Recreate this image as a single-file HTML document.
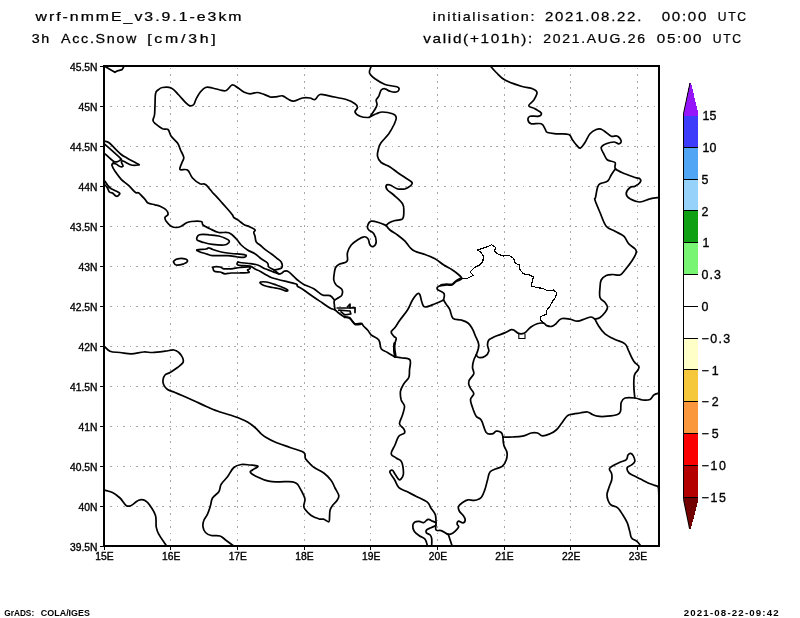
<!DOCTYPE html>
<html><head><meta charset="utf-8"><title>wrf-nmmE 3h Acc.Snow</title>
<style>
html,body{margin:0;padding:0;background:#fff;}
body{width:800px;height:618px;overflow:hidden;}
svg{display:block;will-change:transform;}
text{font-family:"Liberation Sans",sans-serif;fill:#000;}
body{-webkit-font-smoothing:antialiased;}
</style></head><body>
<svg width="800" height="618" viewBox="0 0 800 618">
<rect width="800" height="618" fill="#fff"/>

<g stroke="#a8a8a8" stroke-width="1" stroke-dasharray="1.8 4.75" fill="none" shape-rendering="crispEdges">
<line x1="170.5" y1="67.6" x2="170.5" y2="546.0"/>
<line x1="237.5" y1="67.6" x2="237.5" y2="546.0"/>
<line x1="304.5" y1="67.6" x2="304.5" y2="546.0"/>
<line x1="370.5" y1="67.6" x2="370.5" y2="546.0"/>
<line x1="437.5" y1="67.6" x2="437.5" y2="546.0"/>
<line x1="504.5" y1="67.6" x2="504.5" y2="546.0"/>
<line x1="570.5" y1="67.6" x2="570.5" y2="546.0"/>
<line x1="637.5" y1="67.6" x2="637.5" y2="546.0"/>
<line x1="110.0" y1="106.5" x2="659.0" y2="106.5"/>
<line x1="110.0" y1="146.5" x2="659.0" y2="146.5"/>
<line x1="110.0" y1="186.5" x2="659.0" y2="186.5"/>
<line x1="110.0" y1="226.5" x2="659.0" y2="226.5"/>
<line x1="110.0" y1="266.5" x2="659.0" y2="266.5"/>
<line x1="110.0" y1="306.5" x2="659.0" y2="306.5"/>
<line x1="110.0" y1="346.5" x2="659.0" y2="346.5"/>
<line x1="110.0" y1="386.5" x2="659.0" y2="386.5"/>
<line x1="110.0" y1="426.5" x2="659.0" y2="426.5"/>
<line x1="110.0" y1="466.5" x2="659.0" y2="466.5"/>
<line x1="110.0" y1="506.5" x2="659.0" y2="506.5"/>
</g>
<g fill="none" stroke="#000" stroke-width="1.72" stroke-linejoin="round" stroke-linecap="round">
<path d="M105.0 66.6 L114.9 72.3 L117.5 70.8 L122.1 69.6 L123.6 67.0"/>
<path d="M371.2 116.2 C370.6 116.5 369.5 117.5 367.5 117.5 C365.5 117.5 362.2 117.2 360.0 116.2 C357.8 115.3 355.4 113.6 355.0 112.0 C354.6 110.4 357.5 109.0 357.5 107.5 C357.5 106.0 357.0 105.2 355.0 103.8 C353.0 102.3 350.8 100.8 346.2 99.5 C341.8 98.2 334.7 97.2 330.0 96.2 C325.3 95.3 322.7 93.9 320.0 94.5 C317.3 95.1 316.8 98.9 315.0 99.5 C313.2 100.1 312.2 98.3 310.0 98.0 C307.8 97.7 305.4 97.4 302.5 98.0 C299.6 98.6 296.4 101.1 293.8 101.2 C291.1 101.4 289.5 99.7 287.5 98.8 C285.5 97.8 284.5 96.1 282.5 95.8 C280.5 95.4 278.5 96.6 276.2 96.8 C274.0 96.9 272.5 97.3 270.0 96.8 C267.5 96.2 264.8 94.5 262.5 93.8 C260.2 93.0 259.2 92.5 257.0 92.5 C254.8 92.5 252.4 93.8 250.0 93.8 C247.6 93.7 246.0 93.1 243.8 92.0 C241.5 90.9 239.6 88.8 237.5 87.5 C235.4 86.2 234.0 84.5 232.0 85.0 C230.0 85.5 228.4 89.6 226.2 90.5 C224.1 91.4 222.5 90.5 220.0 90.0 C217.5 89.5 215.1 88.5 212.5 88.0 C209.9 87.5 207.8 86.7 205.5 87.5 C203.2 88.3 201.7 90.5 200.0 92.5 C198.3 94.5 197.4 96.6 196.2 98.8 C195.1 100.9 194.9 103.2 193.8 104.5 C192.6 105.8 191.3 106.0 190.0 105.8 C188.7 105.5 188.3 105.2 186.2 103.2 C184.2 101.3 181.4 97.7 178.8 95.0 C176.1 92.3 174.2 89.3 171.2 88.0 C168.3 86.7 164.9 87.1 162.5 87.5 C160.1 87.9 159.3 88.9 158.0 90.0 C156.7 91.1 156.0 91.0 155.5 93.8 C155.0 96.5 155.2 101.2 155.0 105.0 C154.8 108.8 154.9 112.2 154.5 115.0 C154.1 117.8 152.8 118.9 153.0 120.5 C153.2 122.1 153.8 122.3 155.5 123.8 C157.2 125.2 160.2 127.7 162.5 128.8 C164.8 129.8 166.4 128.2 168.0 129.5 C169.6 130.8 169.5 133.8 171.2 136.2 C173.0 138.7 175.8 140.5 177.5 143.0 C179.2 145.5 179.4 147.4 180.5 150.0 C181.6 152.6 183.5 155.2 183.8 157.5 C184.0 159.8 182.7 160.3 182.0 162.5 C181.3 164.7 179.0 168.2 180.0 169.5 C181.0 170.8 185.2 168.5 187.5 170.0 C189.8 171.5 190.2 175.5 192.5 178.0 C194.8 180.5 197.7 182.6 200.0 183.8 C202.3 184.9 203.2 182.9 205.5 184.5 C207.8 186.1 210.8 190.6 212.5 192.5 C214.2 194.4 213.7 193.6 215.0 195.0 C216.3 196.4 218.0 198.2 220.0 200.5 C222.0 202.8 224.0 204.9 226.2 207.5 C228.5 210.1 231.2 213.2 232.5 215.0 C233.8 216.8 232.6 216.5 233.8 217.5 C234.9 218.5 236.9 219.4 238.8 220.6 C240.6 221.8 241.7 223.2 243.8 224.4 C245.8 225.6 248.0 226.0 250.0 227.0 C252.0 228.0 254.3 228.8 255.0 229.8 C255.7 230.7 253.8 231.3 253.8 232.5 C253.8 233.7 254.6 234.6 255.0 236.2 C255.4 237.9 255.3 240.3 256.2 241.9 C257.1 243.5 258.4 243.7 260.0 245.0 C261.6 246.3 263.0 247.8 265.0 249.4 C267.0 251.0 269.0 252.1 271.2 253.8 C273.5 255.4 275.7 257.3 277.5 258.8 C279.3 260.2 280.5 260.4 281.2 262.0 C282.0 263.6 282.6 266.2 281.9 267.5 C281.2 268.8 279.0 269.0 277.5 269.4 C276.0 269.8 274.4 269.7 273.8 269.8"/>
<path d="M371.2 66.2 C370.9 67.5 368.8 70.8 369.5 73.0 C370.2 75.2 372.2 76.7 375.0 78.8 C377.8 80.8 380.9 83.0 385.0 84.5 C389.1 86.0 395.0 86.0 397.5 87.0 C400.0 88.0 399.0 89.1 398.8 90.0 C398.5 90.9 397.8 91.8 396.2 92.0 C394.7 92.2 392.0 91.8 390.0 91.2 C388.0 90.7 386.6 89.0 385.0 88.8 C383.4 88.5 382.4 88.7 381.2 90.0 C380.1 91.3 379.6 94.5 378.8 96.2 C377.9 98.0 376.6 98.4 376.2 100.0 C375.9 101.6 377.4 103.0 377.0 105.0 C376.6 107.0 374.9 109.2 373.8 111.2 C372.6 113.3 370.1 115.8 370.5 116.2 C370.9 116.7 374.1 114.5 376.2 113.8 C378.4 113.0 379.6 112.0 382.5 112.0 C385.4 112.0 390.0 112.8 392.5 113.8 C395.0 114.7 396.0 115.5 396.2 117.5 C396.5 119.5 395.1 122.1 393.8 125.0 C392.4 127.9 391.0 130.6 388.8 133.8 C386.5 136.9 383.1 140.0 381.2 142.5 C379.4 145.0 379.4 145.0 378.8 147.5 C378.1 150.0 377.1 153.6 377.5 156.2 C377.9 158.9 379.0 160.6 381.2 162.5 C383.5 164.4 387.1 165.2 390.0 167.0 C392.9 168.8 394.8 170.6 397.5 172.5 C400.2 174.4 402.4 175.7 405.0 177.5 C407.6 179.3 411.1 180.9 412.0 182.5 C412.9 184.1 411.3 185.1 410.0 186.2 C408.7 187.4 407.2 188.3 405.0 188.8 C402.8 189.2 400.2 189.4 397.5 188.8 C394.8 188.1 392.0 185.6 390.0 185.0 C388.0 184.4 386.7 184.6 386.2 185.5 C385.8 186.4 386.1 188.3 387.5 190.0 C388.9 191.7 391.1 192.5 393.8 195.0 C396.4 197.5 400.7 200.8 402.5 203.8 C404.3 206.7 403.8 208.6 403.8 211.2 C403.8 213.9 404.1 217.1 402.5 218.8 C400.9 220.4 397.5 219.7 395.0 220.5 C392.5 221.3 390.3 222.1 388.8 223.0 C387.2 223.9 386.7 225.1 386.2 225.5"/>
<path d="M386.2 225.5 C385.1 225.1 382.7 223.8 380.0 223.0 C377.3 222.2 373.5 220.7 371.2 221.2 C369.0 221.8 367.9 224.7 367.5 226.2 C367.1 227.8 367.6 228.7 368.8 230.0 C369.9 231.3 372.4 231.7 373.8 233.8 C375.1 235.8 376.2 239.0 376.2 241.2 C376.2 243.5 374.9 245.6 373.8 246.2 C372.6 246.9 371.0 246.3 370.0 245.0 C369.0 243.7 369.1 240.2 368.0 238.8 C366.9 237.3 365.6 236.5 363.8 236.8 C361.9 237.0 359.8 238.5 357.5 240.0 C355.2 241.5 353.1 242.8 351.2 245.0 C349.4 247.2 348.2 249.8 347.5 252.5 C346.8 255.2 347.9 258.2 347.5 260.0 C347.1 261.8 346.6 261.7 345.0 262.5 C343.4 263.3 340.4 263.5 338.8 264.4 C337.1 265.3 336.4 266.0 335.6 267.5 C334.8 269.0 334.7 270.2 334.4 272.5 C334.1 274.8 333.4 277.8 333.8 280.0 C334.1 282.2 334.8 283.3 336.2 285.0 C337.7 286.7 340.9 287.6 341.9 289.4 C342.9 291.2 342.5 293.5 341.9 295.0 C341.3 296.5 340.1 296.5 338.8 297.5 C337.4 298.5 335.2 299.2 334.4 300.6 C333.6 302.0 334.3 303.3 334.4 305.0 C334.5 306.7 334.9 309.1 335.0 310.0"/>
<path d="M386.2 225.5 C386.9 226.3 388.0 228.3 390.0 230.0 C392.0 231.7 394.8 233.0 397.5 235.0 C400.2 237.0 402.8 239.0 405.0 241.2 C407.2 243.5 408.2 245.7 410.0 247.5 C411.8 249.3 412.3 250.0 415.0 251.2 C417.7 252.5 421.4 253.2 425.0 254.5 C428.6 255.8 431.6 256.9 435.0 258.8 C438.4 260.6 440.6 263.0 443.8 265.0 C446.9 267.0 449.8 268.2 452.5 270.0 C455.2 271.8 457.3 273.4 459.0 275.0 C460.7 276.6 462.3 277.5 461.8 278.7 C461.3 279.9 458.0 280.4 456.2 281.5 C454.4 282.6 453.7 284.4 452.0 285.0 C450.3 285.6 448.9 284.8 446.5 285.0 C444.1 285.2 440.4 285.4 438.8 286.2 C437.1 287.1 436.6 288.2 437.5 289.5 C438.4 290.8 442.9 291.6 444.0 293.5 C445.1 295.4 443.6 298.8 443.5 300.0"/>
<path d="M443.5 300.0 C442.0 300.7 438.3 302.5 435.0 303.8 C431.7 305.0 427.3 307.2 425.0 307.0 C422.7 306.8 422.9 304.7 422.0 302.5 C421.1 300.3 420.8 296.6 420.0 295.0 C419.2 293.4 418.9 292.9 417.5 293.8 C416.1 294.6 414.3 297.1 412.5 300.0 C410.7 302.9 409.8 306.4 407.5 310.0 C405.2 313.6 402.2 316.9 400.0 320.0 C397.8 323.1 396.6 325.3 395.0 327.5 C393.4 329.7 391.5 330.4 391.2 332.0 C391.0 333.6 392.9 335.0 393.8 336.2 C394.6 337.5 396.2 336.7 396.2 338.8 C396.2 340.8 394.0 344.2 393.8 347.5 C393.5 350.8 394.8 355.3 395.0 357.0"/>
<path d="M443.5 300.0 C444.0 300.8 445.4 302.9 446.5 304.6 C447.6 306.3 448.5 306.9 449.7 309.4 C450.9 311.9 451.0 316.4 453.0 318.3 C455.0 320.2 458.2 319.1 461.0 320.0 C463.8 320.9 466.2 321.6 468.3 323.2 C470.4 324.8 471.2 326.8 472.4 328.9 C473.6 331.0 473.9 332.1 475.0 335.0 C476.1 337.9 478.5 341.4 478.8 345.0 C479.0 348.6 476.7 353.2 476.2 355.0"/>
<path d="M595.0 319.2 C594.3 318.8 593.0 317.1 591.2 317.0 C589.5 316.9 587.5 318.0 585.0 318.8 C582.5 319.5 580.2 321.2 577.5 321.2 C574.8 321.3 572.9 319.7 570.0 319.2 C567.1 318.8 563.8 317.9 561.2 318.8 C558.7 319.6 557.4 322.6 555.7 324.0 C554.0 325.4 553.3 326.1 551.7 326.4 C550.1 326.7 548.3 326.2 546.8 325.6 C545.3 325.0 545.3 323.5 543.6 323.2 C541.9 322.9 539.4 323.0 537.1 323.7 C534.8 324.4 532.6 325.7 530.6 327.2 C528.6 328.7 527.3 330.9 525.8 332.1 C524.3 333.3 523.8 333.5 522.5 333.7 C521.2 333.9 520.0 334.0 518.5 333.4 C517.0 332.8 515.7 331.2 514.4 330.5 C513.1 329.8 512.9 329.3 511.2 329.7 C509.5 330.1 507.2 331.9 504.7 332.9 C502.2 333.9 499.8 334.6 497.5 335.5 C495.2 336.4 493.6 337.1 492.0 338.0 C490.4 338.9 489.3 339.2 488.5 340.5 C487.7 341.8 487.5 343.1 487.5 345.0 C487.5 346.9 489.2 349.2 488.8 351.2 C488.3 353.3 486.8 355.1 485.0 356.2 C483.2 357.4 480.3 357.7 478.8 357.5 C477.2 357.3 476.7 355.4 476.2 355.0"/>
<path d="M476.2 355.0 C475.8 355.9 474.4 357.8 473.8 360.0 C473.1 362.2 472.5 365.0 472.5 367.5 C472.5 370.0 474.4 371.3 473.8 373.8 C473.1 376.2 469.4 378.8 468.8 381.2 C468.1 383.7 469.1 385.2 470.0 387.5 C470.9 389.8 473.7 391.6 473.8 393.8 C473.8 395.9 470.7 397.0 470.5 399.5 C470.3 402.0 471.5 404.5 472.5 407.5 C473.5 410.5 474.7 414.0 476.2 416.2 C477.8 418.5 479.4 417.1 481.2 420.0 C483.1 422.9 484.2 430.0 486.2 432.5 C488.3 435.0 490.7 434.0 492.5 433.8 C494.3 433.5 494.7 431.5 496.2 431.2 C497.8 431.0 500.0 431.5 501.2 432.5 C502.5 433.5 502.7 436.2 503.0 437.0"/>
<path d="M503.0 437.0 C504.7 437.0 509.0 437.1 512.5 437.0 C516.0 436.9 519.1 437.0 522.5 436.2 C525.9 435.5 528.5 433.6 531.2 433.0 C534.0 432.4 535.5 432.5 537.5 433.0 C539.5 433.5 540.2 435.6 542.5 435.8 C544.8 435.9 547.5 434.8 550.0 433.8 C552.5 432.7 554.2 431.8 556.2 430.0 C558.3 428.2 559.5 426.1 561.2 423.8 C563.0 421.4 564.7 418.7 566.2 417.0 C567.8 415.3 567.5 415.2 570.0 414.5 C572.5 413.8 576.9 413.4 580.0 413.0 C583.1 412.6 585.2 411.7 587.5 412.0 C589.8 412.3 590.7 413.7 592.5 414.5 C594.3 415.3 594.8 415.9 597.5 416.2 C600.2 416.6 603.9 416.6 607.5 416.2 C611.1 415.9 615.2 415.4 617.5 414.5 C619.8 413.6 619.8 413.4 620.5 411.2 C621.2 409.1 620.4 404.9 621.2 402.5 C622.1 400.1 622.5 398.8 625.0 398.0 C627.5 397.2 631.9 397.6 635.0 398.0 C638.1 398.4 639.8 399.7 642.5 400.0 C645.2 400.3 648.0 400.4 650.0 399.5 C652.0 398.6 652.1 396.2 653.8 395.0 C655.4 393.8 658.3 393.4 659.2 393.0"/>
<path d="M595.0 319.2 C595.7 320.5 597.0 323.6 598.8 326.2 C600.5 328.9 602.1 331.4 605.0 333.8 C607.9 336.1 611.4 337.7 615.0 339.5 C618.6 341.3 622.5 341.6 625.0 343.8 C627.5 345.9 627.2 348.1 628.8 351.2 C630.3 354.4 632.0 358.6 633.8 361.2 C635.5 363.9 638.0 364.7 638.8 366.2 C639.5 367.8 638.8 368.4 638.0 370.0 C637.2 371.6 635.3 372.3 634.5 375.0 C633.7 377.7 633.8 381.4 633.8 385.0 C633.8 388.6 634.3 392.7 634.5 395.0 C634.7 397.3 634.9 397.5 635.0 398.0"/>
<path d="M503.0 437.0 C503.1 438.4 503.0 442.2 503.8 445.0 C504.5 447.8 506.6 449.8 507.0 452.5 C507.4 455.2 507.1 457.5 506.2 460.0 C505.4 462.5 504.3 464.7 502.5 466.2 C500.7 467.8 498.5 467.7 496.2 468.8 C494.0 469.8 491.6 470.0 490.0 472.0 C488.4 474.0 488.4 476.9 487.5 480.0 C486.6 483.1 486.1 486.1 485.0 489.2 C483.9 492.4 482.8 495.6 481.2 497.5 C479.7 499.4 477.7 499.5 476.2 500.0 C474.8 500.5 474.7 500.3 473.2 500.3 C471.7 500.3 469.8 499.5 468.0 499.8 C466.2 500.1 464.7 501.0 463.0 502.2 C461.3 503.4 459.3 504.7 458.6 506.3 C457.9 507.9 458.5 509.4 459.3 511.0 C460.1 512.6 461.9 513.7 463.0 515.3 C464.1 516.9 465.2 518.3 465.2 519.7 C465.2 521.1 464.2 522.6 463.0 522.9 C461.8 523.2 459.7 520.9 458.6 521.1 C457.5 521.3 457.1 522.9 457.1 524.0 C457.1 525.1 459.0 525.7 458.6 527.0 C458.2 528.3 456.4 530.0 455.0 531.3 C453.6 532.6 452.2 533.8 450.6 534.2 C449.0 534.6 447.0 533.6 446.2 533.5"/>
<path d="M490.5 66.2 C491.5 67.4 493.6 70.0 496.2 72.5 C498.9 75.0 500.5 77.5 505.0 80.0 C509.5 82.5 516.3 84.7 521.2 86.2 C526.2 87.8 529.7 87.6 532.5 88.8 C535.3 89.9 536.8 90.5 537.0 92.5 C537.2 94.5 535.2 97.6 533.8 100.0 C532.3 102.4 528.5 104.2 528.8 105.8 C529.0 107.3 532.8 107.4 535.0 108.8 C537.2 110.1 540.6 111.7 541.2 113.0 C541.9 114.3 540.8 115.7 538.8 116.2 C536.7 116.8 531.9 115.6 530.0 116.2 C528.1 116.9 527.8 118.7 528.0 120.0 C528.2 121.3 528.9 123.1 531.2 123.8 C533.6 124.4 538.8 122.8 541.2 123.8 C543.7 124.7 543.9 127.2 545.0 128.8 C546.1 130.3 545.2 131.6 547.5 132.5 C549.8 133.4 553.7 133.4 557.5 133.8 C561.3 134.1 566.0 133.4 568.8 134.5 C571.5 135.6 570.9 137.9 572.5 140.0 C574.1 142.1 576.1 144.8 577.5 146.2 C578.9 147.7 579.1 148.7 580.5 148.0 C581.9 147.3 583.3 145.1 585.0 142.5 C586.7 139.9 588.0 136.1 590.0 133.8 C592.0 131.4 594.2 130.3 596.2 129.5 C598.3 128.7 599.5 128.7 601.2 129.2 C603.0 129.8 604.5 131.2 606.2 132.5 C608.0 133.8 609.2 135.6 611.2 136.2 C613.3 136.9 615.7 135.3 617.5 136.2 C619.3 137.2 621.0 139.9 621.2 141.2 C621.5 142.6 620.1 143.6 618.8 143.8 C617.4 143.9 616.0 142.0 613.8 142.0 C611.5 142.0 608.5 142.8 606.2 143.8 C604.0 144.7 601.7 145.7 601.2 147.5 C600.8 149.3 602.6 151.5 603.8 153.8 C604.9 156.0 605.5 158.4 607.5 160.0 C609.5 161.6 613.6 160.9 615.0 162.5 C616.4 164.1 613.7 166.7 615.5 168.8 C617.3 170.8 621.5 172.2 625.0 173.8 C628.5 175.3 632.3 176.6 635.0 177.5 C637.7 178.4 639.1 177.8 640.0 178.8 C640.9 179.7 640.9 181.2 640.0 182.5 C639.1 183.8 636.8 185.3 635.0 186.2 C633.2 187.2 631.6 186.2 630.0 187.5 C628.4 188.8 626.2 191.7 626.2 193.8 C626.2 195.8 627.5 197.3 630.0 198.8 C632.5 200.2 636.4 202.0 640.0 202.0 C643.6 202.0 646.6 199.6 650.0 198.8 C653.4 197.9 657.4 197.7 659.0 197.5"/>
<path d="M615.5 168.8 C614.7 169.9 612.7 172.8 611.2 175.0 C609.8 177.2 609.5 179.7 607.5 181.2 C605.5 182.8 601.8 182.6 600.0 183.8 C598.2 184.9 598.3 185.0 597.5 187.5 C596.7 190.0 596.0 195.2 595.5 197.5 C595.0 199.8 594.2 197.3 595.0 200.0 C595.8 202.7 598.0 207.8 600.0 212.5 C602.0 217.2 603.5 222.9 606.2 226.2 C609.0 229.6 611.9 229.4 615.0 231.2 C618.1 233.1 621.3 234.0 623.8 236.2 C626.2 238.5 626.7 241.5 628.8 243.8 C630.8 246.0 633.6 247.2 635.0 248.8 C636.4 250.3 636.7 250.5 636.2 252.5 C635.8 254.5 634.5 256.9 632.5 260.0 C630.5 263.1 627.2 267.3 625.0 270.0 C622.8 272.7 622.2 274.2 620.0 275.0 C617.8 275.8 615.0 274.4 612.5 274.5 C610.0 274.6 608.3 274.5 606.2 275.5 C604.2 276.5 602.4 277.8 601.2 280.0 C600.1 282.2 600.2 284.4 600.0 287.5 C599.8 290.6 599.1 294.8 600.0 297.5 C600.9 300.2 603.6 300.7 605.0 302.5 C606.4 304.3 607.5 305.7 607.5 307.5 C607.5 309.3 606.4 310.7 605.0 312.5 C603.6 314.3 601.8 316.3 600.0 317.5 C598.2 318.7 595.9 318.9 595.0 319.2"/>
<path d="M105.0 141.2 C105.8 141.6 106.6 140.7 109.4 143.0 C112.2 145.3 117.4 151.3 120.6 154.0 C123.8 156.7 123.8 156.2 126.9 158.0 C130.0 159.8 136.0 162.7 138.0 164.0 C140.0 165.3 139.2 164.8 138.0 165.0 C136.8 165.2 133.9 165.7 131.2 165.0 C128.6 164.3 124.8 161.5 123.0 161.0 C121.2 160.5 121.5 161.3 121.5 162.2 C121.5 163.2 123.4 165.5 123.0 166.2 C122.6 167.0 120.6 166.7 119.4 166.2 C118.2 165.8 117.4 164.5 116.2 164.0 C115.1 163.5 113.8 163.2 113.0 163.5 C112.2 163.8 111.6 164.2 112.0 165.6 C112.4 167.0 113.3 168.8 115.0 171.2 C116.7 173.7 118.8 176.8 121.2 179.4 C123.7 182.0 126.2 183.2 128.8 185.6 C131.3 188.0 133.8 191.2 135.6 192.5 C137.4 193.8 137.1 191.8 138.8 193.0 C140.4 194.2 143.3 197.6 145.0 199.4 C146.7 201.2 146.2 202.0 148.0 203.0 C149.8 204.0 152.8 204.2 155.0 204.8 C157.2 205.3 158.0 205.3 160.0 206.2 C162.0 207.2 164.8 208.5 166.2 210.0 C167.7 211.5 168.2 213.2 168.0 214.5 C167.8 215.8 165.3 216.3 165.0 217.5 C164.7 218.7 165.1 219.7 166.2 221.2 C167.4 222.8 169.4 225.1 171.2 226.2 C173.1 227.4 174.4 227.5 176.2 227.5 C178.1 227.5 179.4 227.1 181.2 226.2 C183.1 225.4 184.4 223.9 186.2 223.0 C188.1 222.1 188.6 221.8 191.2 221.5 C193.9 221.2 199.1 220.9 201.2 221.5 C203.4 222.1 201.4 223.7 203.0 225.0 C204.6 226.3 207.2 227.4 210.0 228.8 C212.8 230.1 215.4 231.8 218.8 232.5 C222.1 233.2 225.6 231.6 228.8 232.8 C231.9 233.9 234.0 236.5 236.2 238.8 C238.5 241.0 239.2 243.0 241.2 245.0 C243.3 247.0 245.0 248.4 247.5 250.0 C250.0 251.6 252.5 252.2 255.0 253.8 C257.5 255.3 259.0 257.1 261.2 258.8 C263.5 260.4 266.1 261.5 267.5 263.0 C268.9 264.5 267.6 265.8 268.8 267.0 C269.9 268.2 271.9 268.5 273.8 269.8 C275.6 271.0 277.3 273.2 278.8 273.8 C280.2 274.3 280.9 273.4 281.9 273.0 C282.9 272.6 283.2 271.4 284.4 271.2 C285.6 271.1 286.4 270.3 288.8 271.9 C291.1 273.5 294.8 277.8 297.5 280.0 C300.2 282.2 300.8 282.8 303.8 284.4 C306.7 286.0 310.4 286.8 313.8 288.8 C317.1 290.7 319.6 293.8 322.5 295.0 C325.4 296.2 327.9 294.7 330.0 295.6 C332.1 296.5 333.6 299.2 334.4 300.0"/>
<path d="M105.0 144.4 C107.7 146.8 117.2 155.1 120.0 157.8 C122.8 160.4 120.8 158.8 120.6 159.4 C120.4 160.0 120.0 160.6 118.8 161.0 C117.5 161.4 116.2 162.8 113.8 161.5 C111.3 160.2 106.6 155.1 105.0 153.8"/>
<path d="M113.8 161.5 L113.0 163.5"/>
<path d="M105.0 181.2 C105.5 181.9 106.4 183.7 107.5 185.0 C108.6 186.3 109.2 187.4 111.2 188.8 C113.3 190.1 117.3 191.5 118.8 192.5 C120.2 193.5 119.9 193.7 119.4 194.4 C119.0 195.1 117.5 196.5 116.2 196.2 C115.0 196.0 113.7 193.8 112.5 193.0 C111.3 192.2 110.3 192.9 109.4 192.0 C108.5 191.1 108.3 189.3 107.5 188.0 C106.7 186.7 105.5 185.5 105.0 185.0"/>
<path d="M199.4 234.8 C201.6 233.8 205.9 234.5 209.4 234.8 C212.9 235.0 215.7 235.3 218.8 236.0 C221.8 236.7 224.3 237.8 226.2 238.8 C228.2 239.7 229.2 240.3 229.4 241.2 C229.6 242.2 228.5 243.1 227.5 243.8 C226.5 244.4 226.4 244.9 223.8 245.0 C221.1 245.1 216.1 244.8 212.5 244.4 C208.9 244.0 206.5 243.3 203.8 242.5 C201.0 241.7 197.8 241.1 197.0 239.8 C196.2 238.4 197.2 235.7 199.4 234.8"/>
<path d="M197.0 249.8 C198.1 249.2 204.1 249.4 206.2 249.0 C208.4 248.6 207.6 247.7 208.8 247.8 C209.9 247.8 210.2 248.6 212.5 249.4 C214.8 250.2 217.9 251.3 221.2 252.0 C224.6 252.7 227.0 253.0 231.2 253.5 C235.5 254.0 242.6 254.1 245.0 254.8 C247.4 255.4 245.8 256.8 244.4 257.2 C243.1 257.7 240.5 257.3 237.5 257.0 C234.5 256.7 232.0 255.9 227.5 255.6 C223.0 255.3 216.3 255.9 212.5 255.6 C208.7 255.3 208.5 254.4 206.2 253.8 C204.0 253.1 201.7 252.7 200.0 252.0 C198.3 251.3 195.9 250.3 197.0 249.8"/>
<path d="M213.0 267.0 C214.3 266.8 218.1 266.7 220.0 267.0 C221.9 267.3 221.7 268.4 223.8 268.8 C225.8 269.1 228.3 269.0 231.2 268.8 C234.2 268.5 236.8 267.8 240.0 267.5 C243.2 267.2 246.9 266.8 248.8 267.0 C250.6 267.2 250.2 268.2 250.0 268.8 C249.8 269.3 247.7 269.3 247.5 270.0 C247.3 270.7 250.1 272.0 248.8 272.5 C247.4 273.0 243.2 272.7 240.0 272.8 C236.8 272.8 233.9 272.8 231.2 273.0 C228.6 273.2 227.0 273.9 225.0 273.8 C223.0 273.6 221.9 272.4 220.0 272.0 C218.1 271.6 215.7 272.0 214.4 271.2 C213.1 270.5 213.3 268.8 213.0 268.0 C212.7 267.2 211.7 267.2 213.0 267.0"/>
<path d="M173.8 261.2 C174.4 260.6 175.5 259.2 177.5 258.8 C179.5 258.3 183.2 258.3 185.0 258.8 C186.8 259.2 187.7 260.4 187.5 261.2 C187.3 262.1 185.8 263.1 183.8 263.8 C181.7 264.4 178.1 265.2 176.2 265.0 C174.4 264.8 174.2 263.2 173.8 262.5 C173.3 261.8 173.1 261.9 173.8 261.2"/>
<path d="M238.0 262.0 C238.4 262.1 238.1 262.2 240.0 262.5 C241.9 262.8 245.6 263.1 248.8 263.5 C251.9 263.9 254.6 264.1 257.5 265.0 C260.4 265.9 262.5 267.7 265.0 268.8 C267.5 269.8 269.4 270.3 271.2 271.0 C273.1 271.7 273.6 272.0 275.0 272.5 C276.4 273.0 278.1 273.7 278.8 274.0"/>
<path d="M238.0 262.0 C238.0 262.5 235.8 264.2 238.0 265.0 C240.2 265.8 246.9 265.5 250.0 266.2 C253.1 267.0 253.2 268.1 255.0 269.0 C256.8 269.9 257.8 270.1 260.0 271.2 C262.2 272.4 265.2 274.4 267.5 275.6 C269.8 276.8 269.4 277.0 272.5 278.0 C275.6 279.0 280.7 280.2 285.0 281.2 C289.3 282.3 294.0 283.1 296.2 284.0 C298.5 284.9 296.1 285.2 297.5 286.2 C298.9 287.3 301.1 288.2 303.8 290.0 C306.4 291.8 309.1 293.9 312.5 296.2 C315.9 298.6 319.4 300.9 322.5 303.0 C325.6 305.1 327.8 306.7 330.0 308.0 C332.2 309.3 333.6 309.2 335.0 310.0 C336.4 310.8 336.4 311.3 338.0 312.5 C339.6 313.7 342.0 315.7 344.0 316.6 C346.0 317.5 347.8 316.7 349.2 317.4 C350.7 318.1 351.2 319.6 352.2 320.8 C353.3 321.9 353.6 323.3 355.2 323.8 C356.9 324.2 359.8 323.0 361.2 323.4 C362.7 323.8 362.3 324.7 363.5 326.0 C364.7 327.3 366.6 328.9 368.0 330.5 C369.4 332.1 369.3 333.3 371.2 335.0 C373.2 336.7 376.9 337.5 378.8 340.0 C380.6 342.5 379.7 346.5 381.2 348.8 C382.8 351.0 385.0 351.0 387.5 352.5 C390.0 354.0 393.6 356.2 395.0 357.0"/>
<path d="M260.0 282.5 C260.4 281.9 263.3 281.6 266.2 282.0 C269.2 282.4 272.5 283.7 276.2 285.0 C280.0 286.3 285.1 288.3 286.9 289.4 C288.7 290.5 287.5 291.4 286.2 291.2 C285.0 291.1 282.5 289.4 280.0 288.8 C277.5 288.1 275.4 288.1 272.5 287.5 C269.6 286.9 266.2 286.4 264.0 285.5 C261.8 284.6 259.6 283.1 260.0 282.5"/>
<path d="M337.2 308.0 L350.0 308.0 L350.0 304.2 L347.8 306.5"/>
<path d="M350.0 308.0 L355.0 307.6 L355.0 312.5"/>
<path d="M338.8 310.2 L350.0 311.0 L350.8 314.0 L344.8 314.8 L341.0 311.8"/>
<path d="M395.0 357.0 C396.4 357.2 399.8 357.5 402.5 358.0 C405.2 358.5 408.7 357.8 410.0 360.0 C411.3 362.2 409.7 366.9 409.5 370.0 C409.3 373.1 409.8 375.0 408.8 377.5 C407.7 380.0 405.2 381.3 403.8 383.8 C402.3 386.2 400.9 388.3 400.5 391.2 C400.1 394.2 400.5 397.3 401.2 400.0 C402.0 402.7 404.3 403.6 404.5 406.2 C404.7 408.9 403.4 411.9 402.5 415.0 C401.6 418.1 399.3 421.3 399.5 423.8 C399.7 426.2 402.9 427.1 403.8 428.8 C404.6 430.4 405.4 431.6 404.5 433.0 C403.6 434.4 400.5 434.1 398.8 436.2 C397.0 438.4 396.4 441.9 395.0 445.0 C393.6 448.1 391.0 451.4 391.2 453.8 C391.5 456.1 394.4 456.6 396.2 458.0 C398.1 459.4 400.0 459.6 401.2 461.2 C402.5 462.9 402.6 464.9 403.0 467.3 C403.4 469.7 403.6 472.5 403.3 474.6 C403.0 476.7 401.9 478.0 401.1 478.9 C400.3 479.8 399.9 480.5 398.9 479.7 C397.9 478.9 396.5 476.3 395.3 474.6 C394.1 472.9 393.4 470.6 392.4 470.2 C391.4 469.8 389.5 470.7 389.9 472.4 C390.3 474.1 393.0 476.9 394.6 479.7 C396.2 482.5 396.8 485.6 398.9 487.7 C401.0 489.8 403.1 489.7 406.2 491.3 C409.3 492.9 412.6 494.4 416.4 496.4 C420.2 498.4 424.7 500.1 427.3 502.2 C429.9 504.3 429.5 505.8 430.9 508.0 C432.3 510.2 434.4 512.0 435.3 514.6 C436.2 517.2 435.9 519.8 436.0 522.6 C436.1 525.4 435.1 528.5 436.0 529.9 C436.9 531.3 439.3 530.0 441.1 530.6 C442.9 531.2 444.9 532.7 446.2 533.5 C447.5 534.3 447.7 534.0 448.4 535.0 C449.1 536.0 449.3 537.4 449.9 539.3 C450.5 541.2 451.6 544.4 452.0 545.5"/>
<path d="M436.0 522.6 C435.4 522.3 433.8 521.7 432.4 521.1 C431.0 520.5 429.6 519.1 428.0 519.4 C426.4 519.7 425.3 522.2 423.7 522.6 C422.1 523.0 420.9 521.5 419.3 521.4 C417.7 521.3 416.1 521.2 414.9 521.9 C413.7 522.6 412.9 523.8 412.8 525.5 C412.7 527.2 413.0 529.5 414.2 531.3 C415.4 533.1 417.3 534.3 419.3 535.7 C421.3 537.1 423.7 537.5 425.1 539.3 C426.5 541.1 426.9 544.4 427.3 545.5"/>
<path d="M436.0 525.5 C435.1 525.9 432.6 526.9 430.9 527.7 C429.2 528.5 427.4 529.0 426.6 529.9 C425.8 530.8 425.7 531.9 426.3 532.8 C426.9 533.7 429.2 534.0 430.2 535.0 C431.2 536.0 431.4 536.7 431.7 538.6 C432.0 540.5 431.7 544.3 431.7 545.5"/>
<path d="M394.2 343.0 C394.1 343.9 393.8 345.7 393.9 348.0 C394.0 350.3 394.8 354.6 395.0 356.0"/>
<path d="M395.0 343.0 C394.9 343.9 394.6 345.7 394.7 348.0 C394.8 350.3 395.6 354.6 395.8 356.0"/>
<path d="M460.5 278.2 C459.7 278.6 457.7 279.5 456.2 280.6 C454.7 281.7 453.7 283.6 452.0 284.2 C450.3 284.8 448.5 284.1 446.5 284.2 C444.5 284.3 442.0 284.7 441.0 284.8"/>
<path d="M344.5 317.3 C345.4 317.5 348.1 317.4 349.5 318.2 C350.9 319.0 351.4 320.4 352.5 321.6 C353.6 322.8 354.0 324.1 355.5 324.6 C357.0 325.1 360.0 324.3 361.0 324.2"/>
<path d="M104.2 346.2 C105.3 347.1 107.2 350.1 110.0 351.2 C112.8 352.4 116.2 352.1 120.0 352.5 C123.8 352.9 127.0 353.8 131.2 353.8 C135.5 353.7 139.9 352.2 143.8 352.0 C147.6 351.8 148.7 352.6 152.5 352.5 C156.3 352.4 161.2 351.7 165.0 351.2 C168.8 350.8 171.3 349.8 173.8 350.0 C176.2 350.2 177.2 351.1 178.8 352.5 C180.3 353.9 181.7 355.7 182.5 357.5 C183.3 359.3 183.9 360.7 183.0 362.5 C182.1 364.3 179.8 365.7 177.5 367.5 C175.2 369.3 172.2 371.1 170.0 372.5 C167.8 373.9 166.3 373.6 165.0 375.0 C163.7 376.4 163.2 378.2 163.0 380.0 C162.8 381.8 162.9 383.3 163.8 385.0 C164.6 386.7 165.5 388.1 167.5 389.5 C169.5 390.9 172.1 391.3 175.0 392.5 C177.9 393.7 180.2 394.7 183.8 396.2 C187.3 397.8 190.7 399.3 195.0 401.2 C199.3 403.2 203.0 405.1 207.5 407.0 C212.0 408.9 215.9 410.6 220.0 412.0 C224.1 413.4 226.6 413.9 230.0 415.0 C233.4 416.1 235.6 416.7 238.8 418.0 C241.9 419.3 244.6 420.3 247.5 422.0 C250.4 423.7 252.5 425.4 255.0 427.5 C257.5 429.6 259.2 431.9 261.2 433.8 C263.3 435.6 263.8 436.0 266.2 437.5 C268.7 439.0 270.7 440.2 275.0 442.0 C279.3 443.8 284.8 445.6 290.0 447.5 C295.2 449.4 301.0 450.5 303.8 452.5 C306.5 454.5 304.1 456.5 305.5 458.8 C306.9 461.0 309.5 463.3 311.2 465.0 C313.0 466.7 312.8 466.6 315.0 468.0 C317.2 469.4 320.8 470.8 323.8 473.0 C326.7 475.2 329.2 477.8 331.2 480.5 C333.3 483.2 333.6 485.3 335.0 488.0 C336.4 490.7 338.4 493.2 338.8 495.5 C339.1 497.8 338.1 498.7 337.0 500.5 C335.9 502.3 333.8 503.7 332.5 505.5 C331.2 507.3 330.5 508.2 330.0 510.5 C329.5 512.8 329.7 516.0 329.5 518.0 C329.3 520.0 329.8 521.5 328.8 521.8 C327.7 522.0 325.6 519.8 323.8 519.2 C321.9 518.7 321.0 519.4 318.8 518.8 C316.5 518.1 313.7 517.2 311.2 515.5 C308.8 513.8 306.4 511.1 305.0 509.2 C303.6 507.4 303.8 507.3 303.8 505.5 C303.8 503.7 305.2 501.5 305.0 499.2 C304.8 497.0 303.9 495.7 302.5 493.0 C301.1 490.3 299.3 486.3 297.5 484.2 C295.7 482.2 295.6 482.2 292.5 481.8 C289.4 481.3 284.3 481.8 280.0 481.8 C275.7 481.7 272.8 482.1 268.8 481.2 C264.7 480.4 260.8 478.6 257.5 477.0 C254.2 475.4 251.4 473.8 250.5 472.5 C249.6 471.2 251.2 471.1 252.5 470.0 C253.8 468.9 258.4 467.1 258.0 466.2 C257.6 465.4 253.0 465.3 250.0 465.0 C247.0 464.7 244.2 464.1 241.2 464.5 C238.3 464.9 236.2 465.3 233.8 467.5 C231.3 469.7 229.8 473.7 227.5 476.8 C225.2 479.8 222.8 481.6 221.2 484.2 C219.7 486.9 220.3 489.3 218.8 491.8 C217.2 494.2 214.0 495.5 212.5 498.0 C211.0 500.5 211.4 502.6 210.5 505.5 C209.6 508.4 208.7 511.6 207.5 514.2 C206.3 517.0 204.6 518.2 203.8 520.5 C202.9 522.8 202.7 524.6 203.0 526.8 C203.3 528.9 204.0 530.9 205.5 532.5 C207.0 534.1 208.6 534.9 211.2 535.5 C213.9 536.1 217.3 535.1 220.0 536.0 C222.7 536.9 223.9 538.8 226.2 540.5 C228.6 542.2 231.8 544.6 233.0 545.5"/>
<path d="M104.2 490.0 C105.7 490.4 109.7 491.1 112.5 492.5 C115.3 493.9 117.5 495.7 120.0 498.0 C122.5 500.3 124.2 504.1 126.2 505.5 C128.3 506.9 129.4 506.2 131.2 505.5 C133.1 504.8 134.7 502.8 136.2 501.8 C137.8 500.7 138.4 500.0 140.0 499.8 C141.6 499.5 143.2 499.5 145.0 500.5 C146.8 501.5 148.1 502.8 150.0 505.5 C151.9 508.2 154.4 511.7 155.5 515.5 C156.6 519.3 155.7 523.4 156.2 526.8 C156.8 530.1 156.9 530.9 158.8 534.2 C160.6 537.6 164.9 543.5 166.2 545.5"/>
<path d="M640.5 545.5 C639.9 544.8 638.6 542.8 637.0 541.4 C635.4 540.0 632.9 539.7 631.6 537.9 C630.3 536.1 630.6 534.3 629.8 531.6 C629.0 528.9 628.5 525.7 627.2 522.7 C625.9 519.7 624.5 517.4 622.7 514.7 C620.9 512.0 619.5 509.3 617.4 507.6 C615.3 505.9 612.8 506.3 611.1 505.0 C609.4 503.7 608.8 502.4 608.1 500.5 C607.4 498.6 606.8 496.9 607.0 494.3 C607.2 491.7 608.6 488.9 609.4 486.3 C610.2 483.7 611.3 482.2 611.7 480.0 C612.1 477.8 612.1 475.8 611.7 473.8 C611.3 471.8 609.2 470.2 609.4 468.8 C609.6 467.4 611.0 467.0 612.9 465.8 C614.8 464.6 617.6 463.3 620.0 462.2 C622.4 461.1 624.9 460.9 626.3 459.6 C627.7 458.3 627.2 456.2 628.0 455.1 C628.8 454.0 629.7 453.1 630.7 453.3 C631.7 453.5 632.7 454.5 633.4 456.0 C634.1 457.5 635.1 459.8 634.8 461.4 C634.5 463.0 633.0 463.8 631.6 464.9 C630.2 466.0 627.7 466.2 627.2 467.6 C626.7 469.0 627.8 471.5 628.9 472.9 C630.0 474.3 631.3 474.5 633.4 475.6 C635.5 476.7 637.9 477.8 640.5 479.1 C643.1 480.4 645.0 481.6 647.6 482.7 C650.2 483.8 652.8 484.6 654.7 485.4 C656.6 486.2 657.6 485.4 658.3 487.2 C659.0 489.0 658.7 493.8 658.8 495.2"/>
</g>
<g fill="none" stroke="#000" stroke-width="1.15" stroke-linejoin="round" shape-rendering="crispEdges">
<path d="M461.8 278.7 L466.7 278.7 L473.2 275.5 L470.0 271.9 L474.8 267.4 L479.6 265.0 L482.9 261.7 L483.4 256.0 L481.3 252.8 L477.5 249.9 L483.7 248.0 L488.5 246.3 L491.8 244.7 L495.8 247.6 L494.2 251.2 L498.3 254.1 L503.1 256.0 L509.6 255.7 L513.6 258.5 L515.2 263.3 L519.3 265.0 L520.1 269.8 L523.3 273.8 L528.2 274.6 L533.5 276.7 L532.2 281.9 L531.4 286.0 L537.1 287.6 L542.8 288.4 L547.6 290.8 L553.3 290.0 L556.5 292.4 L555.7 297.3 L552.5 301.3 L550.0 306.2 L546.8 310.2 L546.0 314.3 L540.3 316.7 L540.3 320.0 L543.6 323.2"/>
</g>
<path d="M518.8 333.8 L518.8 338.5 L525.0 338.5 L525.0 333.8" fill="none" stroke="#000" stroke-width="1.1"/>
<rect x="104.0" y="66.0" width="555.0" height="480.0" fill="none" stroke="#000" stroke-width="2" shape-rendering="crispEdges"/>
<g stroke="#000" stroke-width="1" shape-rendering="crispEdges">
<line x1="100" y1="66.5" x2="104" y2="66.5"/>
<line x1="100" y1="106.5" x2="104" y2="106.5"/>
<line x1="100" y1="146.5" x2="104" y2="146.5"/>
<line x1="100" y1="186.5" x2="104" y2="186.5"/>
<line x1="100" y1="226.5" x2="104" y2="226.5"/>
<line x1="100" y1="266.5" x2="104" y2="266.5"/>
<line x1="100" y1="306.5" x2="104" y2="306.5"/>
<line x1="100" y1="346.5" x2="104" y2="346.5"/>
<line x1="100" y1="386.5" x2="104" y2="386.5"/>
<line x1="100" y1="426.5" x2="104" y2="426.5"/>
<line x1="100" y1="466.5" x2="104" y2="466.5"/>
<line x1="100" y1="506.5" x2="104" y2="506.5"/>
<line x1="100" y1="546.5" x2="104" y2="546.5"/>
<line x1="104.5" y1="546" x2="104.5" y2="549.5"/>
<line x1="170.5" y1="546" x2="170.5" y2="549.5"/>
<line x1="237.5" y1="546" x2="237.5" y2="549.5"/>
<line x1="304.5" y1="546" x2="304.5" y2="549.5"/>
<line x1="370.5" y1="546" x2="370.5" y2="549.5"/>
<line x1="437.5" y1="546" x2="437.5" y2="549.5"/>
<line x1="504.5" y1="546" x2="504.5" y2="549.5"/>
<line x1="570.5" y1="546" x2="570.5" y2="549.5"/>
<line x1="637.5" y1="546" x2="637.5" y2="549.5"/>
</g>
<g font-size="10.3" text-anchor="end" stroke="#000" stroke-width="0.35">
<text x="97.5" y="70.7">45.5N</text>
<text x="97.5" y="110.7">45N</text>
<text x="97.5" y="150.7">44.5N</text>
<text x="97.5" y="190.7">44N</text>
<text x="97.5" y="230.7">43.5N</text>
<text x="97.5" y="270.7">43N</text>
<text x="97.5" y="310.7">42.5N</text>
<text x="97.5" y="350.7">42N</text>
<text x="97.5" y="390.7">41.5N</text>
<text x="97.5" y="430.7">41N</text>
<text x="97.5" y="470.7">40.5N</text>
<text x="97.5" y="510.7">40N</text>
<text x="97.5" y="550.7">39.5N</text>
</g>
<g font-size="10.3" text-anchor="middle" stroke="#000" stroke-width="0.35">
<text x="104.5" y="560">15E</text>
<text x="171.2" y="560">16E</text>
<text x="237.8" y="560">17E</text>
<text x="304.5" y="560">18E</text>
<text x="371.2" y="560">19E</text>
<text x="437.9" y="560">20E</text>
<text x="504.5" y="560">21E</text>
<text x="571.2" y="560">22E</text>
<text x="637.9" y="560">23E</text>
</g>
<g shape-rendering="crispEdges">
<polygon points="683.5,113.5 689.5,83 691.0,83 698.3,113.5 698.3,115.8 683.5,115.8" fill="#9614fa"/>
<rect x="683.5" y="115.8" width="14.8" height="31.8" fill="#3c3cfa"/>
<rect x="683.5" y="147.6" width="14.8" height="31.8" fill="#50a5f5"/>
<rect x="683.5" y="179.4" width="14.8" height="31.8" fill="#96d2fa"/>
<rect x="683.5" y="211.2" width="14.8" height="31.8" fill="#0fa014"/>
<rect x="683.5" y="243.0" width="14.8" height="31.8" fill="#78f573"/>
<rect x="683.5" y="338.4" width="14.8" height="31.8" fill="#ffffc8"/>
<rect x="683.5" y="370.2" width="14.8" height="31.8" fill="#f5c83c"/>
<rect x="683.5" y="402.0" width="14.8" height="31.8" fill="#fa963c"/>
<rect x="683.5" y="433.8" width="14.8" height="31.8" fill="#fa0000"/>
<rect x="683.5" y="465.6" width="14.8" height="31.8" fill="#b40000"/>
<polygon points="683.5,497.4 698.3,497.4 698.3,499.5 691.0,528.5 689.5,528.5 683.5,499.5" fill="#730000"/>
</g>
<g stroke="#000" stroke-width="1" fill="none">
<path d="M690 83 L683.5 113.5 L683.5 499.5 L689.5 528.5"/>
<line x1="683.5" y1="147.3" x2="698.3" y2="147.3" shape-rendering="crispEdges"/>
<line x1="683.5" y1="179.1" x2="698.3" y2="179.1" shape-rendering="crispEdges"/>
<line x1="683.5" y1="210.9" x2="698.3" y2="210.9" shape-rendering="crispEdges"/>
<line x1="683.5" y1="242.7" x2="698.3" y2="242.7" shape-rendering="crispEdges"/>
<line x1="683.5" y1="274.5" x2="698.3" y2="274.5" shape-rendering="crispEdges"/>
<line x1="683.5" y1="306.3" x2="698.3" y2="306.3" shape-rendering="crispEdges"/>
<line x1="683.5" y1="338.1" x2="698.3" y2="338.1" shape-rendering="crispEdges"/>
<line x1="683.5" y1="369.9" x2="698.3" y2="369.9" shape-rendering="crispEdges"/>
<line x1="683.5" y1="401.7" x2="698.3" y2="401.7" shape-rendering="crispEdges"/>
<line x1="683.5" y1="433.5" x2="698.3" y2="433.5" shape-rendering="crispEdges"/>
<line x1="683.5" y1="465.3" x2="698.3" y2="465.3" shape-rendering="crispEdges"/>
<line x1="683.5" y1="497.1" x2="698.3" y2="497.1" shape-rendering="crispEdges"/>
</g>
<g font-size="12.4" stroke="#000" stroke-width="0.35">
<text x="702.5" y="120.1">15</text>
<text x="702.5" y="151.9">10</text>
<text x="701.6" y="183.7">5</text>
<text x="701.6" y="215.5">2</text>
<text x="702.5" y="247.3">1</text>
<text x="701.6" y="279.1" textLength="19.2" lengthAdjust="spacing">0.3</text>
<text x="701.6" y="310.9">0</text>
<text x="701.6" y="342.7" textLength="28.6" lengthAdjust="spacing">−0.3</text>
<text x="701.6" y="374.5" textLength="17.0" lengthAdjust="spacing">−1</text>
<text x="701.6" y="406.3" textLength="17.0" lengthAdjust="spacing">−2</text>
<text x="701.6" y="438.1" textLength="17.0" lengthAdjust="spacing">−5</text>
<text x="701.6" y="469.9" textLength="24.2" lengthAdjust="spacing">−10</text>
<text x="701.6" y="501.7" textLength="24.2" lengthAdjust="spacing">−15</text>
</g>
<text transform="translate(35.5,20.9) scale(1.220,1)" font-size="13.0" textLength="168.9" lengthAdjust="spacing" stroke="#000" stroke-width="0.25">wrf-nmmE_v3.9.1-e3km</text>
<text transform="translate(31.7,42.5) scale(1.100,1)" font-size="13.0" textLength="16.0" lengthAdjust="spacing" stroke="#000" stroke-width="0.25">3h</text>
<text transform="translate(61.0,42.5) scale(1.097,1)" font-size="13.0" textLength="68.7" lengthAdjust="spacing" stroke="#000" stroke-width="0.25">Acc.Snow</text>
<text transform="translate(147.2,42.5) scale(1.220,1)" font-size="13.0" textLength="56.2" lengthAdjust="spacing" stroke="#000" stroke-width="0.25">[cm/3h]</text>
<text transform="translate(432.7,20.9) scale(1.102,1)" font-size="13.0" textLength="92.4" lengthAdjust="spacing" stroke="#000" stroke-width="0.25">initialisation:</text>
<text transform="translate(545.0,20.9) scale(1.155,1)" font-size="13.0" textLength="83.4" lengthAdjust="spacing" stroke="#000" stroke-width="0.25">2021.08.22.</text>
<text transform="translate(661.7,20.9) scale(1.162,1)" font-size="13.0" textLength="38.4" lengthAdjust="spacing" stroke="#000" stroke-width="0.25">00:00</text>
<text transform="translate(717.7,20.9) scale(0.932,1)" font-size="13.0" textLength="30.4" lengthAdjust="spacing" stroke="#000" stroke-width="0.25">UTC</text>
<text transform="translate(423.2,42.5) scale(1.175,1)" font-size="13.0" textLength="92.9" lengthAdjust="spacing" stroke="#000" stroke-width="0.25">valid(+101h):</text>
<text transform="translate(543.2,42.5) scale(1.077,1)" font-size="13.0" textLength="94.6" lengthAdjust="spacing" stroke="#000" stroke-width="0.25">2021.AUG.26</text>
<text transform="translate(656.8,42.5) scale(1.165,1)" font-size="13.0" textLength="38.4" lengthAdjust="spacing" stroke="#000" stroke-width="0.25">05:00</text>
<text transform="translate(712.7,42.5) scale(0.932,1)" font-size="13.0" textLength="30.4" lengthAdjust="spacing" stroke="#000" stroke-width="0.25">UTC</text>
<g font-size="9.7" font-weight="bold">
<text x="4.2" y="615.6" textLength="30" lengthAdjust="spacingAndGlyphs">GrADS:</text>
<text x="40.8" y="615.6" textLength="49.2" lengthAdjust="spacingAndGlyphs">COLA/IGES</text>
<text x="683.7" y="615.6" textLength="95" lengthAdjust="spacing">2021-08-22-09:42</text>
</g>
</svg></body></html>
